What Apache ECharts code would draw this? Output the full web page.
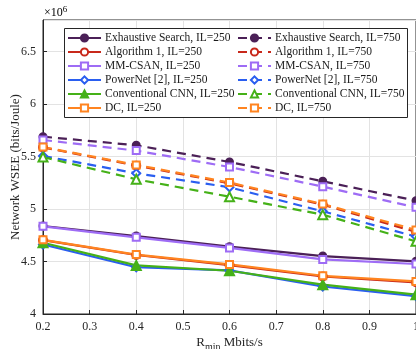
<!DOCTYPE html>
<html><head><meta charset="utf-8">
<script src="https://cdn.jsdelivr.net/npm/echarts@6/dist/echarts.min.js"></script>
<style>html,body{margin:0;padding:0;background:#fff}#c{width:416px;height:349px}</style>
</head><body><div id="c"></div>
<script>
const rmin = [0.2, 0.4, 0.6, 0.8, 1.0];
// Network WSEE in units of 1e6 bits/Joule
const es250   = [4.838, 4.743, 4.641, 4.552, 4.502];
const alg250  = [4.703, 4.562, 4.466, 4.357, 4.302];
const mm250   = [4.835, 4.730, 4.629, 4.520, 4.476];
const pn250   = [4.662, 4.445, 4.415, 4.262, 4.171];
const cnn250  = [4.679, 4.463, 4.412, 4.279, 4.184];
const dc250   = [4.706, 4.566, 4.472, 4.364, 4.310];
const es750   = [5.689, 5.607, 5.448, 5.264, 5.079];
const alg750  = [5.587, 5.413, 5.245, 5.041, 4.781];
const mm750   = [5.657, 5.556, 5.400, 5.213, 5.016];
const pn750   = [5.505, 5.340, 5.207, 4.978, 4.737];
const cnn750  = [5.495, 5.283, 5.117, 4.946, 4.692];
const dc750   = [5.590, 5.420, 5.252, 5.048, 4.800];
const names250 = ['Exhaustive Search, IL=250','Algorithm 1, IL=250','MM-CSAN, IL=250','PowerNet [2], IL=250','Conventional CNN, IL=250','DC, IL=250'];
const names750 = ['Exhaustive Search, IL=750','Algorithm 1, IL=750','MM-CSAN, IL=750','PowerNet [2], IL=750','Conventional CNN, IL=750','DC, IL=750'];
const yTicks = [4, 4.5, 5, 5.5, 6, 6.5];

const colors = ['#4b2057','#c8291b','#9e6cf5','#2a5ef0','#45b118','#ff8420'];
const sym250 = ['circle','emptyCircle','emptyRect','emptyDiamond','triangle','emptyRect'];
const sym750 = ['circle','emptyCircle','emptyRect','emptyDiamond','emptyTriangle','emptyRect'];
const sizes = [7, 8, 7, 8, 9, 7];
const d250 = [es250, alg250, mm250, pn250, cnn250, dc250];
const d750 = [es750, alg750, mm750, pn750, cnn750, dc750];

const series = [];
function add(names, data, syms, dashed) {
  for (let i = 0; i < 6; i++) {
    series.push({
      name: names[i], type: 'line',
      data: rmin.map((x, k) => [x, data[i][k]]),
      symbol: syms[i], symbolSize: sizes[i],
      showAllSymbol: true,
      itemStyle: { color: colors[i], borderColor: colors[i], borderWidth: 2 },
      lineStyle: { color: colors[i], width: 2.2, type: dashed ? [9, 6] : 'solid' },
      emphasis: { disabled: true },
      animation: false
    });
  }
}
add(names250, d250, sym250, false);
add(names750, d750, sym750, true);

const font = 'Liberation Serif';
const legendBase = {
  orient: 'vertical', top: 31, itemWidth: 33, itemHeight: 9, itemGap: 0,
  textStyle: { fontFamily: font, fontSize: 11.5, color: '#1a1a1a', lineHeight: 14, padding: [0,0,0,-1] },
  padding: 0, selectedMode: false
};

const chart = echarts.init(document.getElementById('c'), null, { renderer: 'canvas' });
chart.setOption({
  backgroundColor: '#fff',
  animation: false,
  grid: { left: 43, top: 20, right: 0, bottom: 35, show: true, borderColor: '#262626', borderWidth: 1,
          containLabel: false, outerBoundsMode: 'none' },
  xAxis: {
    type: 'value', min: 0.2, max: 1.0, interval: 0.1,
    axisLine: { show: true, lineStyle: { color: '#262626' } },
    axisTick: { show: true, inside: true, length: 4, lineStyle: { color: '#262626' } },
    splitLine: { show: true, lineStyle: { color: '#e3e3e3' } },
    axisLabel: { fontFamily: font, fontSize: 12, color: '#262626', margin: 7,
      formatter: v => (Math.abs(v - 1) < 1e-9 ? '1' : v.toFixed(1)) },
    name: '{a|R}{b|min}{a| Mbits/s}', nameLocation: 'middle', nameGap: 20, nameMoveOverlap: false,
    nameTextStyle: { rich: {
      a: { fontFamily: font, fontSize: 13, color: '#262626' },
      b: { fontFamily: font, fontSize: 10, color: '#262626', verticalAlign: 'bottom', padding: [8,0,0,0] } } }
  },
  yAxis: {
    type: 'value', min: 4, max: 6.8, interval: 0.5,
    axisLine: { show: true, lineStyle: { color: '#262626' } },
    axisTick: { show: true, inside: true, length: 4, lineStyle: { color: '#262626' } },
    splitLine: { show: true, lineStyle: { color: '#e3e3e3' } },
    axisLabel: { fontFamily: font, fontSize: 12, color: '#262626', margin: 7, showMaxLabel: false,
      formatter: v => (yTicks.some(t => Math.abs(t - v) < 1e-9) ? String(v) : '') },
    name: 'Network WSEE (bits/Joule)', nameLocation: 'middle', nameGap: 21, nameMoveOverlap: false,
    nameTextStyle: { fontFamily: font, fontSize: 13, color: '#262626' }
  },
  legend: [
    Object.assign({}, legendBase, { left: 67, data: names250 }),
    Object.assign({}, legendBase, { left: 237, data: names750 })
  ],
  graphic: [
    { type: 'rect', z: 3, shape: { x: 64.5, y: 28.5, width: 343, height: 89 },
      style: { fill: '#fff', stroke: '#262626', lineWidth: 1 } },
    { type: 'text', left: 44, top: 5, z: 5,
      style: { text: '{a|×10}{b|6}', rich: {
        a: { fontFamily: font, fontSize: 12, color: '#262626' },
        b: { fontFamily: font, fontSize: 9, color: '#262626', verticalAlign: 'top', padding: [0,0,6,0] } } } }
  ],
  series: series
});
</script></body></html>
